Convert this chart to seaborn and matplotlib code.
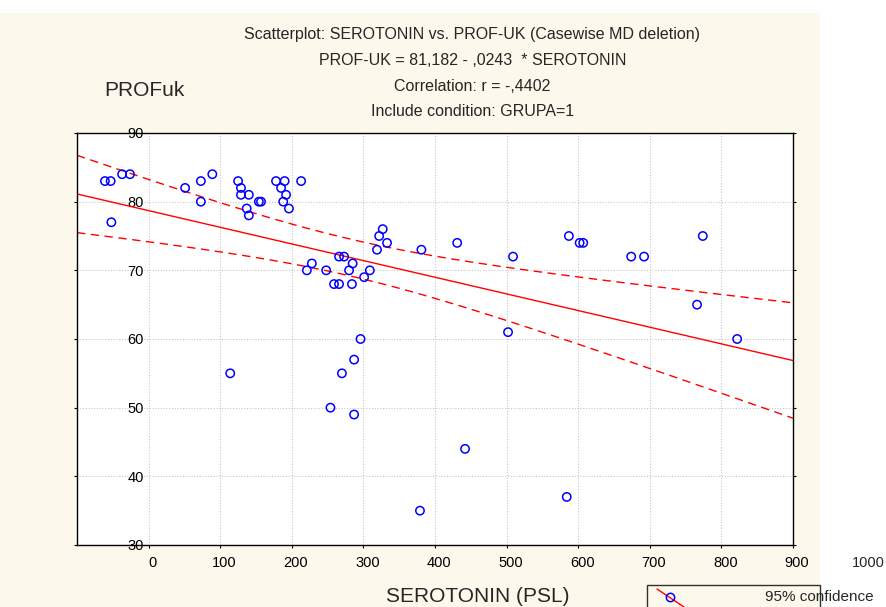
import numpy as np
import pandas as pd
import matplotlib
matplotlib.use('Agg')
import matplotlib.pyplot as plt
import matplotlib.transforms as mtransforms
from matplotlib.patches import Rectangle
from matplotlib.lines import Line2D
import seaborn as sns

# values (x in the units of the printed axis labels)
serotonin = [-61, -53, -52, -37, -26, 51, 73, 73, 89,
             125, 129, 129, 140, 137, 140, 154, 157, 178, 190, 185, 192, 188, 196, 213,
             228, 221, 248, 266, 273, 285, 280, 259, 266, 284, 301, 309, 319, 322, 327, 333,
             296, 381, 431, 509, 502, 587, 602, 607, 674, 692, 774, 766, 822,
             287, 270, 114, 254, 287, 442, 379, 584]
profuk = [83, 83, 77, 84, 84, 82, 83, 80, 84,
          83, 82, 81, 81, 79, 78, 80, 80, 83, 83, 82, 81, 80, 79, 83,
          71, 70, 70, 72, 72, 71, 70, 68, 68, 68, 69, 70, 73, 75, 76, 74,
          60, 73, 74, 72, 61, 75, 74, 74, 72, 72, 75, 65, 60,
          57, 55, 55, 50, 49, 44, 35, 37]

x_ticks = [0, 100, 200, 300, 400, 500, 600, 700, 800, 900]
y_ticks = [30, 40, 50, 60, 70, 80, 90]
title_lines = ['Scatterplot: SEROTONIN vs. PROF-UK (Casewise MD deletion)',
               'PROF-UK = 81,182 - ,0243  * SEROTONIN',
               'Correlation: r = -,4402',
               'Include condition: GRUPA=1']

sns.set_style('ticks')
plt.rcParams['font.family'] = ['Liberation Sans', 'DejaVu Sans']

df = pd.DataFrame({'SEROTONIN': serotonin, 'PROFuk': profuk})

W, H = 886, 607
fig = plt.figure(figsize=(W / 100, H / 100), dpi=100, facecolor='white')
cream = '#fdf8ec'
fig.patches.append(Rectangle((0, 0), 820 / W, 1 - 13 / H, transform=fig.transFigure,
                             facecolor=cream, edgecolor='none', zorder=-10))

ax = fig.add_axes([77 / W, 1 - 545 / H, 716 / W, 412 / H])
ax.set_facecolor('white')

# linear fit and 95% confidence band for the mean
slope, intercept = np.polyfit(df['SEROTONIN'], df['PROFuk'], 1)
xs = np.linspace(-100, 900, 200)
fit = intercept + slope * xs
resid = df['PROFuk'] - (intercept + slope * df['SEROTONIN'])
n = len(df)
s = np.sqrt((resid ** 2).sum() / (n - 2))
sxx = ((df['SEROTONIN'] - df['SEROTONIN'].mean()) ** 2).sum()
half = 2.001 * s * np.sqrt(1 / n + (xs - df['SEROTONIN'].mean()) ** 2 / sxx)

ax.plot(xs, fit, color='#ff0000', lw=1.0, zorder=2)
ax.plot(xs, fit + half, color='#ff0000', lw=1.0, dashes=(6, 4), zorder=2)
ax.plot(xs, fit - half, color='#ff0000', lw=1.0, dashes=(6, 4), zorder=2)

sns.scatterplot(data=df, x='SEROTONIN', y='PROFuk', ax=ax, marker='o', s=36,
                color='#0000ff', facecolor='none', edgecolor='#0000ff',
                linewidth=1.1, zorder=3)

ax.set_xlim(-100, 900)
ax.set_ylim(30, 90)
ax.set_xticks(x_ticks)
ax.set_yticks(y_ticks)
ax.grid(True, color='#c8c8c8', linestyle=(0, (1, 1.5)), lw=0.8)
ax.set_axisbelow(True)
for sp in ax.spines.values():
    sp.set_visible(True)
    sp.set_color('black')
    sp.set_linewidth(1.0)

ax.tick_params(axis='both', direction='out', length=2.5, width=0.8,
               colors='black', labelsize=10.5)
ax.tick_params(axis='x', pad=5.5)
ax.tick_params(axis='y', right=True, pad=-50.5)

offset = mtransforms.ScaledTranslation(4 / 100, 0, fig.dpi_scale_trans)
for lab in ax.get_xticklabels():
    lab.set_transform(lab.get_transform() + offset)
ax.text(1000, 0, '1000', fontsize=10.5, ha='center', va='top', clip_on=False,
        transform=ax.get_xaxis_transform()
        + mtransforms.ScaledTranslation(4 / 100, -8 / 72, fig.dpi_scale_trans))

ax.set_xlabel('SEROTONIN (PSL)', fontsize=15, ha='center', va='center')
ax.xaxis.set_label_coords(0.56, -0.126)
ax.set_ylabel('PROFuk', fontsize=15, rotation=0, ha='center', va='center')
ax.yaxis.set_label_coords(0.0936, 1.104)

for line, yy in zip(title_lines, [1.238, 1.175, 1.114, 1.053]):
    ax.text(0.552, yy, line, transform=ax.transAxes, ha='center', va='center',
            fontsize=11.5)

# legend box at the bottom right
def fpos(px, py):
    return px / W, 1 - py / H

fig.patches.append(Rectangle(fpos(647, 625), (820 - 647) / W, 40 / H,
                             transform=fig.transFigure, facecolor=cream,
                             edgecolor='#303030', lw=1.0, zorder=1))
x1, y1 = fpos(657, 589)
x2, y2 = fpos(684, 607)
fig.add_artist(Line2D([x1, x2], [y1, y2], color='#ff0000', lw=1.0,
                      transform=fig.transFigure))
mx, my = fpos(670, 597)
fig.add_artist(Line2D([mx], [my], marker='o', ms=6, mfc='none', mec='#0000ff',
                      mew=1.1, transform=fig.transFigure))
tx, ty = fpos(765, 597)
fig.text(tx, ty, '95% confidence', ha='left', va='center', fontsize=11)

fig.savefig('out.png', dpi=100, facecolor=fig.get_facecolor())
